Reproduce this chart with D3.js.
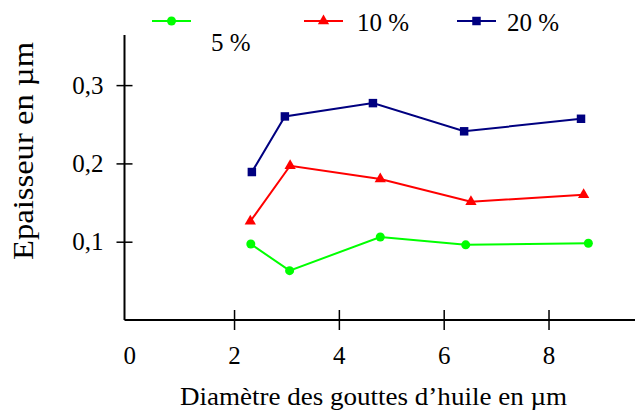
<!DOCTYPE html>
<html><head><meta charset="utf-8">
<script src="https://cdn.jsdelivr.net/npm/d3@7"></script>
<style>
html,body{margin:0;padding:0;background:#fff;}
svg{display:block;}
svg text{font-family:"Liberation Serif","Times New Roman",serif !important;}
</style></head>
<body>
<svg id="c" width="635" height="416"></svg>
<script>
const seriesNames = ["5 %", "10 %", "20 %"];
const seriesColors = ["#00ff00", "#ff0000", "#000080"];
const seriesSymbols = ["circle", "triangle", "square"];
const x5  = [2.32, 3.06, 4.79, 6.42, 8.76];
const y5  = [0.097, 0.063, 0.106, 0.096, 0.098];
const x10 = [2.31, 3.07, 4.79, 6.52, 8.67];
const y10 = [0.126, 0.197, 0.180, 0.151, 0.160];
const x20 = [2.34, 2.97, 4.65, 6.39, 8.62];
const y20 = [0.189, 0.260, 0.277, 0.241, 0.257];
const xTicks = [0, 2, 4, 6, 8];
const yTicks = [0.1, 0.2, 0.3];
const xTitle = "Diamètre des gouttes d’huile en µm";
const yTitle = "Epaisseur en µm";

const seriesX = [x5, x10, x20];
const seriesY = [y5, y10, y20];

const svg = d3.select("#c");
const x = d3.scaleLinear().domain([-0.09, 9.65]).range([124.5, 635]);
const y = d3.scaleLinear().domain([0, 0.364]).range([320, 35]);
const fr = d3.formatLocale({decimal: ",", thousands: " ", grouping: [3], currency: ["", ""]});
const fmt = fr.format(".1f");

// X axis
const gx = svg.append("g").attr("transform", "translate(0,320)")
  .call(d3.axisBottom(x).tickValues(xTicks).tickSize(10).tickPadding(16).tickSizeOuter(0).tickFormat(d3.format("d")));
gx.attr("font-family", null);
gx.select(".domain").attr("stroke", "#000").attr("stroke-width", 2).attr("d", `M${x.range()[0]},0H${x.range()[1]}`);
gx.selectAll(".tick line").attr("y1", -10).attr("y2", 10).attr("stroke-width", 1.5)
  .attr("display", d => d === 0 ? "none" : null);
gx.selectAll(".tick text").attr("font-size", 25).attr("fill", "#000");

// Y axis
const gy = svg.append("g").attr("transform", "translate(124.5,0)")
  .call(d3.axisLeft(y).tickValues(yTicks).tickSize(8).tickPadding(13).tickSizeOuter(0).tickFormat(fmt));
gy.attr("font-family", null);
gy.select(".domain").attr("stroke", "#000").attr("stroke-width", 2).attr("d", `M0,${y.range()[1]}V${y.range()[0]}`);
gy.selectAll(".tick line").attr("x1", -8).attr("x2", 8).attr("stroke-width", 1.5);
gy.selectAll(".tick text").attr("font-size", 25).attr("fill", "#000");

// Titles
svg.append("text").attr("x", 373.5).attr("y", 405).attr("text-anchor", "middle")
  .attr("font-size", 25).attr("textLength", 387).attr("lengthAdjust", "spacingAndGlyphs").text(xTitle);
svg.append("text").attr("transform", "translate(33,151) rotate(-90)").attr("text-anchor", "middle")
  .attr("font-size", 30).attr("textLength", 218).attr("lengthAdjust", "spacingAndGlyphs").text(yTitle);

const symType = {circle: d3.symbolCircle, triangle: d3.symbolTriangle, square: d3.symbolSquare};
const symSize = {circle: 64, triangle: 55, square: 72};

const line = d3.line().x(d => x(d[0])).y(d => y(d[1]));
seriesNames.forEach((name, i) => {
  const pts = seriesX[i].map((v, j) => [v, seriesY[i][j]]);
  svg.append("path").datum(pts).attr("d", line).attr("fill", "none")
    .attr("stroke", seriesColors[i]).attr("stroke-width", 2);
  svg.append("g").selectAll("path").data(pts).join("path")
    .attr("transform", d => `translate(${x(d[0])},${y(d[1])})`)
    .attr("d", d3.symbol().type(symType[seriesSymbols[i]]).size(symSize[seriesSymbols[i]]))
    .attr("fill", seriesColors[i]);
});

// Legend
const legendPos = [
  {lx: 152, ly: 21, tx: 211, ty: 51},
  {lx: 304, ly: 21, tx: 357, ty: 31},
  {lx: 457, ly: 21, tx: 507, ty: 31}
];
seriesNames.forEach((name, i) => {
  const p = legendPos[i];
  const g = svg.append("g");
  g.append("line").attr("x1", p.lx).attr("x2", p.lx + 39).attr("y1", p.ly).attr("y2", p.ly)
    .attr("stroke", seriesColors[i]).attr("stroke-width", 2);
  g.append("path").attr("transform", `translate(${p.lx + 19.5},${p.ly})`)
    .attr("d", d3.symbol().type(symType[seriesSymbols[i]]).size(symSize[seriesSymbols[i]]))
    .attr("fill", seriesColors[i]);
  g.append("text").attr("x", p.tx).attr("y", p.ty).attr("font-size", 25).text(name);
});
</script>
</body></html>
